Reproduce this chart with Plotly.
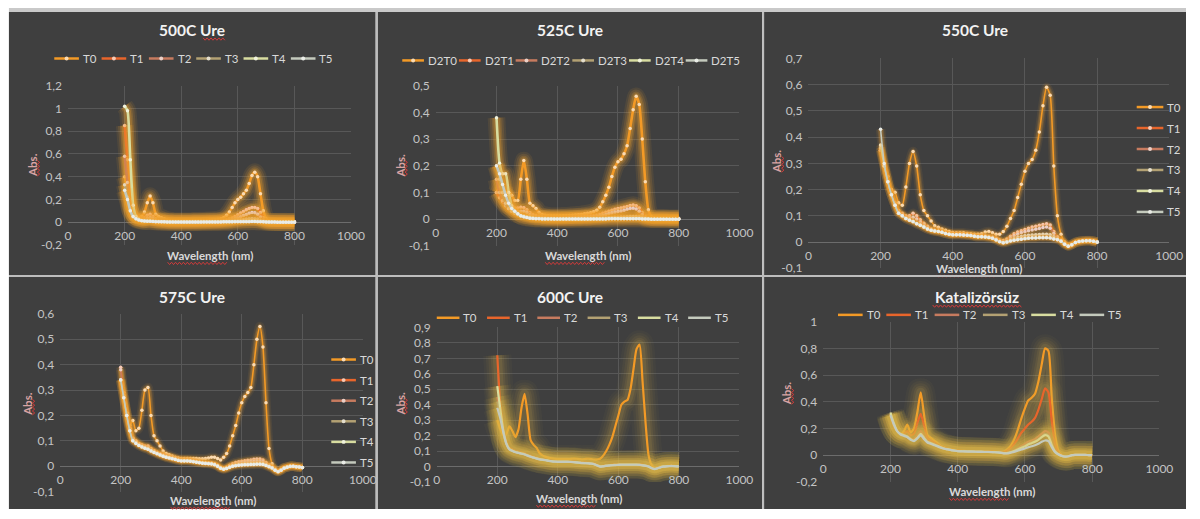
import numpy as np
import plotly.graph_objects as go

W, H = 1200, 519

# ---------------------------------------------------------------- data
wavelength = list(range(200, 801, 10))  # nm

names_T = ["T0", "T1", "T2", "T3", "T4", "T5"]
names_D2 = ["D2T0", "D2T1", "D2T2", "D2T3", "D2T4", "D2T5"]

# 500C Ure
u500_T0 = [0.40, 0.30, 0.15, 0.08, 0.05, 0.04, 0.05, 0.09, 0.17, 0.23,
           0.17, 0.07, 0.05, 0.04, 0.03, 0.02, 0.015, 0.012, 0.01, 0.01,
           0.01, 0.01, 0.01, 0.01, 0.012, 0.012, 0.013, 0.014, 0.015, 0.016,
           0.018, 0.02, 0.022, 0.025, 0.03, 0.04, 0.06, 0.09, 0.13, 0.17,
           0.20, 0.22, 0.25, 0.28, 0.34, 0.41, 0.44, 0.40, 0.25, 0.10,
           0.03, 0.012, 0.008, 0.006, 0.005, 0.005, 0.005, 0.005, 0.004, 0.004,
           0.003]
u500_T1 = [0.85, 0.55, 0.20, 0.08, 0.05, 0.04, 0.035, 0.04, 0.06, 0.07,
           0.05, 0.03, 0.02, 0.015, 0.012, 0.01, 0.008, 0.007, 0.006, 0.006,
           0.006, 0.006, 0.006, 0.006, 0.007, 0.007, 0.008, 0.008, 0.009, 0.01,
           0.01, 0.011, 0.012, 0.013, 0.015, 0.018, 0.022, 0.028, 0.037, 0.05,
           0.065, 0.08, 0.095, 0.11, 0.12, 0.13, 0.13, 0.12, 0.085, 0.04,
           0.012, 0.006, 0.004, 0.003, 0.003, 0.003, 0.003, 0.002, 0.002, 0.002,
           0.002]
u500_T2 = [0.58, 0.35, 0.12, 0.05, 0.03, 0.025, 0.022, 0.025, 0.035, 0.04,
           0.03, 0.02, 0.012, 0.01, 0.008, 0.006, 0.005, 0.005, 0.004, 0.004,
           0.004, 0.004, 0.004, 0.004, 0.005, 0.005, 0.005, 0.006, 0.006, 0.007,
           0.007, 0.008, 0.008, 0.009, 0.01, 0.012, 0.015, 0.019, 0.024, 0.03,
           0.038, 0.048, 0.058, 0.068, 0.078, 0.085, 0.083, 0.07, 0.045, 0.02,
           0.008, 0.004, 0.003, 0.002, 0.002, 0.002, 0.002, 0.002, 0.001, 0.001,
           0.001]
u500_T3 = [0.33, 0.22, 0.10, 0.045, 0.025, 0.015, 0.012, 0.012, 0.014, 0.016,
           0.012, 0.008, 0.006, 0.005, 0.004, 0.003, 0.003, 0.002, 0.002, 0.002,
           0.002, 0.002, 0.002, 0.002, 0.002, 0.003, 0.003, 0.003, 0.003, 0.003,
           0.004, 0.004, 0.004, 0.005, 0.005, 0.006, 0.007, 0.008, 0.01, 0.013,
           0.016, 0.019, 0.022, 0.025, 0.028, 0.03, 0.029, 0.025, 0.016, 0.008,
           0.004, 0.002, 0.002, 0.001, 0.001, 0.001, 0.001, 0.001, 0.001, 0.001,
           0.001]
u500_T4 = [1.02, 0.98, 0.55, 0.15, 0.05, 0.025, 0.015, 0.01, 0.01, 0.01,
           0.008, 0.006, 0.005, 0.004, 0.003, 0.003, 0.002, 0.002, 0.002, 0.002,
           0.002, 0.002, 0.002, 0.002, 0.002, 0.002, 0.002, 0.002, 0.003, 0.003,
           0.003, 0.003, 0.003, 0.003, 0.004, 0.004, 0.004, 0.005, 0.005, 0.006,
           0.006, 0.007, 0.008, 0.008, 0.009, 0.009, 0.009, 0.008, 0.006, 0.004,
           0.003, 0.002, 0.001, 0.001, 0.001, 0.001, 0.001, 0.001, 0.001, 0.001,
           0.001]
u500_T5 = [0.28, 0.20, 0.10, 0.05, 0.03, 0.02, 0.013, 0.01, 0.009, 0.008,
           0.006, 0.005, 0.004, 0.003, 0.003, 0.002, 0.002, 0.002, 0.001, 0.001,
           0.001, 0.001, 0.001, 0.001, 0.001, 0.001, 0.001, 0.001, 0.002, 0.002,
           0.002, 0.002, 0.002, 0.002, 0.002, 0.003, 0.003, 0.003, 0.003, 0.004,
           0.004, 0.004, 0.005, 0.005, 0.005, 0.006, 0.006, 0.005, 0.004, 0.003,
           0.002, 0.001, 0.001, 0.001, 0.0, 0.0, 0.0, 0.0, 0.0, 0.0,
           0.0]

# 525C Ure
u525_D2T0 = [0.10, 0.12, 0.11, 0.10, 0.10, 0.09, 0.07, 0.07, 0.15, 0.22,
             0.15, 0.06, 0.05, 0.04, 0.025, 0.018, 0.015, 0.013, 0.012, 0.012,
             0.012, 0.012, 0.013, 0.013, 0.014, 0.015, 0.016, 0.017, 0.018, 0.02,
             0.022, 0.024, 0.028, 0.034, 0.045, 0.065, 0.09, 0.12, 0.16, 0.195,
             0.215, 0.225, 0.245, 0.275, 0.34, 0.41, 0.46, 0.43, 0.30, 0.14,
             0.035, 0.01, 0.006, 0.005, 0.005, 0.005, 0.004, 0.004, 0.004, 0.004,
             0.004]
u525_D2T1 = [0.10, 0.08, 0.065, 0.055, 0.05, 0.045, 0.042, 0.042, 0.045, 0.043,
             0.035, 0.025, 0.018, 0.014, 0.011, 0.009, 0.008, 0.007, 0.007, 0.007,
             0.007, 0.007, 0.007, 0.008, 0.008, 0.008, 0.009, 0.009, 0.01, 0.01,
             0.011, 0.012, 0.013, 0.015, 0.018, 0.022, 0.026, 0.03, 0.034, 0.037,
             0.04, 0.042, 0.045, 0.048, 0.051, 0.053, 0.05, 0.042, 0.025, 0.01,
             0.005, 0.003, 0.003, 0.003, 0.003, 0.003, 0.003, 0.002, 0.002, 0.002,
             0.002]
u525_D2T2 = [0.15, 0.10, 0.07, 0.05, 0.04, 0.035, 0.03, 0.028, 0.03, 0.03,
             0.025, 0.018, 0.013, 0.01, 0.008, 0.007, 0.006, 0.005, 0.005, 0.005,
             0.005, 0.005, 0.005, 0.005, 0.006, 0.006, 0.006, 0.007, 0.007, 0.008,
             0.008, 0.009, 0.01, 0.011, 0.013, 0.015, 0.018, 0.021, 0.024, 0.027,
             0.029, 0.031, 0.034, 0.037, 0.04, 0.041, 0.038, 0.03, 0.017, 0.007,
             0.003, 0.002, 0.002, 0.002, 0.002, 0.002, 0.002, 0.002, 0.002, 0.002,
             0.002]
u525_D2T3 = [0.20, 0.15, 0.10, 0.06, 0.04, 0.03, 0.022, 0.017, 0.015, 0.013,
             0.01, 0.008, 0.006, 0.005, 0.004, 0.003, 0.003, 0.003, 0.002, 0.002,
             0.002, 0.002, 0.002, 0.002, 0.002, 0.002, 0.003, 0.003, 0.003, 0.003,
             0.003, 0.003, 0.004, 0.004, 0.004, 0.005, 0.005, 0.006, 0.006, 0.007,
             0.007, 0.008, 0.008, 0.009, 0.01, 0.01, 0.01, 0.009, 0.006, 0.003,
             0.002, 0.001, 0.001, 0.001, 0.001, 0.001, 0.001, 0.001, 0.001, 0.001,
             0.001]
u525_D2T4 = [0.38, 0.21, 0.17, 0.17, 0.10, 0.05, 0.03, 0.02, 0.012, 0.009,
             0.007, 0.005, 0.004, 0.003, 0.003, 0.002, 0.002, 0.002, 0.002, 0.001,
             0.001, 0.001, 0.001, 0.001, 0.001, 0.001, 0.001, 0.001, 0.001, 0.001,
             0.001, 0.001, 0.002, 0.002, 0.002, 0.002, 0.002, 0.002, 0.003, 0.003,
             0.003, 0.003, 0.003, 0.003, 0.003, 0.003, 0.003, 0.003, 0.002, 0.002,
             0.001, 0.001, 0.001, 0.001, 0.001, 0.001, 0.001, 0.0, 0.0, 0.0,
             0.0]
u525_D2T5 = [0.20, 0.17, 0.13, 0.09, 0.06, 0.04, 0.03, 0.02, 0.013, 0.009,
             0.006, 0.004, 0.003, 0.002, 0.002, 0.001, 0.001, 0.001, 0.001, 0.001,
             0.001, 0.001, 0.001, 0.001, 0.001, 0.001, 0.001, 0.001, 0.001, 0.001,
             0.001, 0.001, 0.001, 0.001, 0.001, 0.001, 0.001, 0.002, 0.002, 0.002,
             0.002, 0.002, 0.002, 0.002, 0.002, 0.002, 0.002, 0.002, 0.001, 0.001,
             0.001, 0.0, 0.0, 0.0, 0.0, 0.0, 0.0, 0.0, 0.0, 0.0,
             0.0]

# 550C Ure
u550_T0 = [0.36, 0.30, 0.25, 0.20, 0.19, 0.15, 0.14, 0.21, 0.30, 0.345,
           0.29, 0.18, 0.12, 0.10, 0.08, 0.062, 0.056, 0.05, 0.045, 0.04,
           0.036, 0.035, 0.035, 0.035, 0.033, 0.032, 0.03, 0.03, 0.032, 0.038,
           0.04, 0.035, 0.03, 0.03, 0.04, 0.06, 0.09, 0.12, 0.17, 0.22,
           0.27, 0.30, 0.315, 0.35, 0.42, 0.52, 0.59, 0.56, 0.29, 0.10,
           0.03, 0.0, -0.012, -0.008, 0.0, 0.003, 0.005, 0.006, 0.006, 0.004,
           0.0]
u550_T1 = [0.35, 0.29, 0.23, 0.18, 0.15, 0.12, 0.11, 0.10, 0.10, 0.11,
           0.10, 0.085, 0.072, 0.06, 0.05, 0.045, 0.042, 0.039, 0.035, 0.032,
           0.03, 0.03, 0.03, 0.029, 0.028, 0.027, 0.025, 0.023, 0.023, 0.023,
           0.021, 0.018, 0.014, 0.008, 0.006, 0.012, 0.022, 0.032, 0.038, 0.043,
           0.048, 0.053, 0.057, 0.06, 0.064, 0.067, 0.07, 0.065, 0.04, 0.02,
           0.008, -0.005, -0.014, -0.009, -0.002, 0.002, 0.004, 0.005, 0.005, 0.003,
           0.0]
u550_T2 = [0.35, 0.29, 0.23, 0.18, 0.145, 0.115, 0.105, 0.095, 0.092, 0.095,
           0.088, 0.076, 0.066, 0.056, 0.048, 0.044, 0.041, 0.038, 0.034, 0.031,
           0.029, 0.029, 0.029, 0.028, 0.027, 0.026, 0.024, 0.022, 0.022, 0.022,
           0.02, 0.017, 0.012, 0.006, 0.003, 0.008, 0.016, 0.024, 0.03, 0.035,
           0.039, 0.043, 0.046, 0.049, 0.052, 0.055, 0.057, 0.053, 0.033, 0.016,
           0.006, -0.006, -0.014, -0.009, -0.002, 0.002, 0.004, 0.005, 0.005, 0.003,
           0.0]
u550_T3 = [0.36, 0.29, 0.23, 0.18, 0.14, 0.11, 0.10, 0.09, 0.085, 0.08,
           0.072, 0.066, 0.058, 0.05, 0.045, 0.042, 0.04, 0.037, 0.033, 0.03,
           0.028, 0.028, 0.028, 0.027, 0.026, 0.025, 0.022, 0.02, 0.02, 0.02,
           0.018, 0.015, 0.01, 0.003, -0.002, 0.002, 0.008, 0.013, 0.017, 0.021,
           0.024, 0.026, 0.027, 0.028, 0.029, 0.03, 0.03, 0.028, 0.02, 0.012,
           0.005, -0.007, -0.015, -0.01, -0.002, 0.002, 0.004, 0.005, 0.005, 0.003,
           0.0]
u550_T4 = [0.37, 0.29, 0.23, 0.18, 0.14, 0.11, 0.10, 0.09, 0.084, 0.078,
           0.07, 0.064, 0.057, 0.05, 0.045, 0.042, 0.04, 0.037, 0.033, 0.03,
           0.028, 0.028, 0.028, 0.027, 0.026, 0.025, 0.022, 0.02, 0.02, 0.019,
           0.017, 0.014, 0.009, 0.002, -0.003, 0.0, 0.005, 0.008, 0.01, 0.012,
           0.014, 0.015, 0.016, 0.016, 0.017, 0.017, 0.017, 0.016, 0.013, 0.01,
           0.004, -0.008, -0.015, -0.01, -0.002, 0.002, 0.004, 0.005, 0.005, 0.003,
           0.0]
u550_T5 = [0.43, 0.30, 0.23, 0.18, 0.14, 0.11, 0.10, 0.09, 0.083, 0.077,
           0.07, 0.064, 0.057, 0.05, 0.045, 0.042, 0.04, 0.037, 0.033, 0.03,
           0.028, 0.028, 0.028, 0.027, 0.026, 0.025, 0.022, 0.02, 0.02, 0.019,
           0.017, 0.014, 0.008, 0.001, -0.003, 0.0, 0.004, 0.007, 0.009, 0.011,
           0.013, 0.014, 0.015, 0.015, 0.016, 0.016, 0.016, 0.015, 0.012, 0.009,
           0.003, -0.008, -0.016, -0.01, -0.002, 0.002, 0.004, 0.005, 0.005, 0.003,
           0.0]

# 575C Ure
u575_T0 = [0.34, 0.27, 0.21, 0.16, 0.18, 0.14, 0.15, 0.22, 0.30, 0.31,
           0.20, 0.12, 0.10, 0.08, 0.06, 0.05, 0.045, 0.04, 0.035, 0.032,
           0.03, 0.03, 0.03, 0.03, 0.03, 0.03, 0.029, 0.029, 0.03, 0.032,
           0.035, 0.035, 0.03, 0.025, 0.035, 0.05, 0.08, 0.12, 0.16, 0.21,
           0.25, 0.275, 0.29, 0.31, 0.40, 0.50, 0.55, 0.47, 0.25, 0.07,
           0.01, -0.01, -0.018, -0.012, -0.005, -0.003, 0.0, 0.0, -0.002, -0.003,
           -0.005]
u575_T1 = [0.39, 0.29, 0.21, 0.15, 0.11, 0.10, 0.09, 0.085, 0.08, 0.08,
           0.07, 0.062, 0.055, 0.05, 0.045, 0.04, 0.037, 0.034, 0.03, 0.027,
           0.025, 0.025, 0.025, 0.024, 0.022, 0.02, 0.018, 0.016, 0.015, 0.014,
           0.013, 0.01, 0.004, -0.004, -0.008, -0.004, 0.004, 0.01, 0.015, 0.018,
           0.02, 0.022, 0.024, 0.025, 0.027, 0.028, 0.028, 0.025, 0.015, 0.005,
           -0.003, -0.012, -0.02, -0.014, -0.006, -0.003, 0.0, 0.0, -0.002, -0.003,
           -0.005]
u575_T2 = [0.38, 0.28, 0.21, 0.15, 0.11, 0.098, 0.088, 0.082, 0.077, 0.075,
           0.066, 0.06, 0.053, 0.048, 0.043, 0.039, 0.036, 0.033, 0.029, 0.026,
           0.024, 0.024, 0.024, 0.023, 0.021, 0.019, 0.017, 0.015, 0.014, 0.013,
           0.012, 0.009, 0.003, -0.005, -0.009, -0.006, 0.0, 0.005, 0.009, 0.012,
           0.014, 0.016, 0.017, 0.018, 0.019, 0.02, 0.02, 0.018, 0.01, 0.002,
           -0.004, -0.013, -0.02, -0.014, -0.006, -0.003, 0.0, 0.0, -0.002, -0.003,
           -0.005]
u575_T3 = [0.34, 0.27, 0.20, 0.14, 0.105, 0.095, 0.085, 0.079, 0.074, 0.07,
           0.063, 0.057, 0.051, 0.046, 0.041, 0.037, 0.034, 0.031, 0.028, 0.025,
           0.023, 0.023, 0.023, 0.022, 0.02, 0.018, 0.016, 0.014, 0.013, 0.012,
           0.011, 0.008, 0.002, -0.006, -0.01, -0.007, -0.002, 0.002, 0.005, 0.007,
           0.008, 0.009, 0.01, 0.011, 0.011, 0.012, 0.012, 0.011, 0.006, 0.0,
           -0.005, -0.014, -0.021, -0.015, -0.007, -0.003, 0.0, 0.0, -0.002, -0.003,
           -0.005]
u575_T4 = [0.34, 0.27, 0.20, 0.14, 0.10, 0.092, 0.083, 0.077, 0.072, 0.068,
           0.061, 0.055, 0.05, 0.045, 0.04, 0.036, 0.033, 0.03, 0.027, 0.024,
           0.022, 0.022, 0.022, 0.021, 0.019, 0.017, 0.015, 0.013, 0.012, 0.011,
           0.01, 0.007, 0.001, -0.007, -0.011, -0.008, -0.003, 0.001, 0.003, 0.005,
           0.006, 0.007, 0.007, 0.008, 0.008, 0.009, 0.009, 0.008, 0.004, -0.001,
           -0.006, -0.015, -0.021, -0.015, -0.007, -0.003, 0.0, 0.0, -0.002, -0.003,
           -0.005]
u575_T5 = [0.34, 0.27, 0.20, 0.14, 0.10, 0.09, 0.082, 0.076, 0.071, 0.067,
           0.06, 0.054, 0.049, 0.044, 0.039, 0.035, 0.032, 0.029, 0.026, 0.023,
           0.021, 0.021, 0.021, 0.02, 0.018, 0.016, 0.014, 0.012, 0.011, 0.01,
           0.009, 0.006, 0.0, -0.008, -0.012, -0.009, -0.004, 0.0, 0.002, 0.004,
           0.005, 0.006, 0.006, 0.007, 0.007, 0.008, 0.008, 0.007, 0.003, -0.002,
           -0.007, -0.016, -0.022, -0.016, -0.008, -0.004, -0.001, 0.0, -0.002, -0.003,
           -0.005]

# 600C Ure
u600_T0 = [0.30, 0.24, 0.20, 0.21, 0.26, 0.23, 0.19, 0.24, 0.38, 0.47,
           0.34, 0.17, 0.14, 0.12, 0.085, 0.07, 0.062, 0.056, 0.052, 0.05,
           0.048, 0.047, 0.047, 0.047, 0.048, 0.05, 0.05, 0.048, 0.046, 0.048,
           0.05, 0.048, 0.045, 0.045, 0.05, 0.07, 0.10, 0.14, 0.19, 0.26,
           0.33, 0.40, 0.42, 0.43, 0.50, 0.63, 0.76, 0.79, 0.55, 0.28,
           0.07, 0.01, -0.01, -0.005, 0.0, 0.002, 0.003, 0.004, 0.004, 0.003,
           0.002]
u600_T1 = [0.72, 0.40, 0.25, 0.16, 0.12, 0.11, 0.10, 0.095, 0.09, 0.085,
           0.075, 0.068, 0.062, 0.056, 0.05, 0.047, 0.044, 0.04, 0.037, 0.035,
           0.034, 0.034, 0.034, 0.034, 0.033, 0.032, 0.03, 0.028, 0.026, 0.025,
           0.024, 0.022, 0.018, 0.01, 0.002, 0.004, 0.007, 0.009, 0.011, 0.012,
           0.013, 0.014, 0.014, 0.015, 0.015, 0.015, 0.015, 0.014, 0.011, 0.008,
           0.002, -0.008, -0.015, -0.01, -0.004, 0.0, 0.002, 0.003, 0.003, 0.002,
           0.001]
u600_T2 = [0.45, 0.35, 0.24, 0.155, 0.118, 0.107, 0.098, 0.093, 0.088, 0.083,
           0.074, 0.067, 0.061, 0.055, 0.049, 0.046, 0.043, 0.039, 0.036, 0.034,
           0.033, 0.033, 0.033, 0.033, 0.032, 0.031, 0.029, 0.027, 0.025, 0.024,
           0.023, 0.021, 0.017, 0.009, 0.001, 0.003, 0.006, 0.008, 0.01, 0.011,
           0.012, 0.013, 0.013, 0.014, 0.014, 0.014, 0.014, 0.013, 0.01, 0.007,
           0.001, -0.009, -0.015, -0.01, -0.004, 0.0, 0.002, 0.003, 0.003, 0.002,
           0.001]
u600_T3 = [0.42, 0.34, 0.23, 0.15, 0.115, 0.104, 0.095, 0.09, 0.085, 0.08,
           0.072, 0.065, 0.059, 0.053, 0.048, 0.045, 0.042, 0.038, 0.035, 0.033,
           0.032, 0.032, 0.032, 0.032, 0.031, 0.03, 0.028, 0.026, 0.024, 0.023,
           0.022, 0.02, 0.016, 0.008, 0.0, 0.002, 0.005, 0.007, 0.009, 0.01,
           0.011, 0.012, 0.012, 0.013, 0.013, 0.013, 0.013, 0.012, 0.009, 0.006,
           0.0, -0.01, -0.016, -0.011, -0.004, 0.0, 0.002, 0.003, 0.003, 0.002,
           0.001]
u600_T4 = [0.52, 0.37, 0.23, 0.15, 0.113, 0.102, 0.094, 0.089, 0.084, 0.079,
           0.071, 0.064, 0.058, 0.052, 0.047, 0.044, 0.041, 0.037, 0.034, 0.032,
           0.031, 0.031, 0.031, 0.031, 0.03, 0.029, 0.027, 0.025, 0.023, 0.022,
           0.021, 0.019, 0.015, 0.007, 0.0, 0.002, 0.005, 0.007, 0.009, 0.01,
           0.011, 0.012, 0.012, 0.012, 0.012, 0.012, 0.012, 0.011, 0.008, 0.005,
           0.0, -0.01, -0.016, -0.011, -0.004, 0.0, 0.002, 0.003, 0.003, 0.002,
           0.001]
u600_T5 = [0.38, 0.31, 0.22, 0.145, 0.11, 0.10, 0.092, 0.087, 0.082, 0.077,
           0.07, 0.063, 0.057, 0.051, 0.046, 0.043, 0.04, 0.036, 0.033, 0.031,
           0.03, 0.03, 0.03, 0.03, 0.029, 0.028, 0.026, 0.024, 0.022, 0.021,
           0.02, 0.018, 0.014, 0.006, -0.001, 0.001, 0.004, 0.006, 0.008, 0.009,
           0.01, 0.011, 0.011, 0.011, 0.011, 0.011, 0.011, 0.01, 0.007, 0.004,
           -0.001, -0.011, -0.017, -0.012, -0.005, -0.001, 0.001, 0.002, 0.002, 0.001,
           0.0]

# Katalizörsüz
kat_T0 = [0.30, 0.22, 0.18, 0.16, 0.18, 0.23, 0.17, 0.20, 0.32, 0.47,
          0.30, 0.15, 0.13, 0.11, 0.09, 0.07, 0.06, 0.05, 0.045, 0.04,
          0.035, 0.033, 0.032, 0.031, 0.03, 0.03, 0.029, 0.028, 0.028, 0.027,
          0.027, 0.026, 0.025, 0.025, 0.03, 0.05, 0.08, 0.13, 0.20, 0.28,
          0.35, 0.41, 0.43, 0.46, 0.55, 0.68, 0.80, 0.78, 0.42, 0.15,
          0.03, 0.0, -0.01, -0.01, 0.0, 0.002, 0.003, 0.003, 0.002, 0.001,
          0.0]
kat_T1 = [0.30, 0.22, 0.18, 0.16, 0.16, 0.18, 0.15, 0.16, 0.24, 0.31,
          0.22, 0.13, 0.11, 0.095, 0.08, 0.065, 0.056, 0.048, 0.043, 0.038,
          0.034, 0.032, 0.031, 0.03, 0.029, 0.029, 0.028, 0.027, 0.027, 0.026,
          0.026, 0.025, 0.024, 0.023, 0.026, 0.04, 0.06, 0.09, 0.13, 0.17,
          0.20, 0.23, 0.25, 0.28, 0.34, 0.42, 0.50, 0.47, 0.25, 0.08,
          0.02, -0.002, -0.01, -0.01, 0.0, 0.002, 0.003, 0.003, 0.002, 0.001,
          0.0]
kat_T2 = [0.31, 0.23, 0.18, 0.16, 0.15, 0.145, 0.125, 0.12, 0.15, 0.18,
          0.14, 0.11, 0.095, 0.085, 0.072, 0.062, 0.053, 0.046, 0.041, 0.036,
          0.032, 0.031, 0.03, 0.029, 0.028, 0.028, 0.027, 0.026, 0.026, 0.025,
          0.025, 0.024, 0.022, 0.02, 0.018, 0.022, 0.03, 0.04, 0.055, 0.07,
          0.085, 0.10, 0.11, 0.12, 0.14, 0.16, 0.18, 0.17, 0.09, 0.035,
          0.01, -0.004, -0.01, -0.008, 0.0, 0.002, 0.003, 0.003, 0.002, 0.001,
          0.0]
kat_T3 = [0.31, 0.23, 0.18, 0.16, 0.15, 0.14, 0.12, 0.11, 0.13, 0.16,
          0.13, 0.10, 0.09, 0.08, 0.07, 0.06, 0.05, 0.045, 0.04, 0.035,
          0.031, 0.03, 0.029, 0.028, 0.028, 0.027, 0.026, 0.026, 0.025, 0.025,
          0.024, 0.023, 0.021, 0.018, 0.015, 0.018, 0.025, 0.035, 0.048, 0.06,
          0.07, 0.085, 0.095, 0.105, 0.12, 0.14, 0.16, 0.15, 0.08, 0.03,
          0.008, -0.005, -0.01, -0.008, 0.0, 0.002, 0.003, 0.003, 0.002, 0.001,
          0.0]
kat_T4 = [0.32, 0.24, 0.18, 0.16, 0.15, 0.14, 0.12, 0.11, 0.13, 0.16,
          0.13, 0.10, 0.09, 0.08, 0.07, 0.06, 0.05, 0.045, 0.04, 0.035,
          0.031, 0.03, 0.029, 0.028, 0.028, 0.027, 0.026, 0.026, 0.025, 0.025,
          0.024, 0.023, 0.021, 0.018, 0.015, 0.017, 0.024, 0.033, 0.045, 0.056,
          0.066, 0.08, 0.09, 0.10, 0.115, 0.135, 0.15, 0.14, 0.075, 0.028,
          0.007, -0.005, -0.01, -0.008, 0.0, 0.002, 0.003, 0.003, 0.002, 0.001,
          0.0]
kat_T5 = [0.30, 0.23, 0.18, 0.155, 0.145, 0.135, 0.115, 0.105, 0.125, 0.15,
          0.12, 0.095, 0.085, 0.075, 0.065, 0.056, 0.048, 0.043, 0.038, 0.034,
          0.03, 0.029, 0.028, 0.027, 0.027, 0.026, 0.025, 0.025, 0.024, 0.024,
          0.023, 0.022, 0.02, 0.017, 0.013, 0.014, 0.02, 0.027, 0.035, 0.043,
          0.05, 0.06, 0.067, 0.074, 0.085, 0.10, 0.11, 0.105, 0.06, 0.022,
          0.005, -0.006, -0.011, -0.008, 0.0, 0.002, 0.003, 0.003, 0.002, 0.001,
          0.0]

x_ticks = [0, 200, 400, 600, 800, 1000]

# ---------------------------------------------------------------- style
series_colors = ["#F39A26", "#E8652B", "#C77B5F", "#B3A173", "#D8DDA0", "#C4CABD"]
PANEL_BG = "#3f3f3f"
GRID = "#585858"
AXIS = "#6c6c6c"
TICK = "#c4c4c4"
TEXT = "#d9d9d9"
TITLE = "#f2f2f2"
FONT = "Lato, 'Open Sans', sans-serif"


def fx(px):
    return px / W


def fy(py):
    return 1 - py / H


def lighten(hex_color, amt):
    r, g, b = (int(hex_color[i:i + 2], 16) for i in (1, 3, 5))
    r, g, b = (int(c + (255 - c) * amt) for c in (r, g, b))
    return f"rgb({r},{g},{b})"


def tick_label(v):
    v = round(float(v), 2) + 0.0
    return f"{v:g}".replace(".", ",")


def squiggle(x0, x1, y, vertical=False, amp=1.2, step=2.0):
    n = int(abs(x1 - x0) / step)
    pts = []
    for j in range(n + 1):
        a = x0 + j * step * (1 if x1 > x0 else -1)
        b = y + (amp if j % 2 else -amp)
        px, py = (b, a) if vertical else (a, b)
        pts.append(f"{fx(px):.5f},{fy(py):.5f}")
    return "M" + " L".join(pts)


# glow layers: (extra width, alpha)
GLOW_STRONG = [(15, 0.09), (11, 0.13), (7, 0.18), (4, 0.25)]
GLOW_THIN = [(8, 0.08), (5, 0.14), (3, 0.22)]
GLOW_SOFT = [(26, 0.035), (21, 0.045), (16, 0.06), (11, 0.08), (7, 0.10)]

panels = [
    dict(title="500C Ure", names=names_T,
         data=[u500_T0, u500_T1, u500_T2, u500_T3, u500_T4, u500_T5],
         box=(6, 4, 378, 275), title_xy=(192, 23), xpx=(66, 353), ypx=(80, 244),
         yr=(-0.2, 1.2), dy=0.2, leg=("h", 52, 52, 48, 25),
         xt=(210, 255), yt=(30, 162), markers=True, glow=GLOW_STRONG,
         glow_rgb=(245, 165, 45), core=2.6, title_sq=(203, 226)),
    dict(title="525C Ure", names=names_D2,
         data=[u525_D2T0, u525_D2T1, u525_D2T2, u525_D2T3, u525_D2T4, u525_D2T5],
         box=(380, 4, 770, 275), title_xy=(575, 23), xpx=(439, 747), ypx=(80, 245),
         yr=(-0.1, 0.5), dy=0.1, leg=("h", 405, 54, 57.5, 22),
         xt=(593, 255), yt=(403, 162), markers=True, glow=GLOW_STRONG,
         glow_rgb=(245, 165, 45), core=2.6, title_sq=None),
    dict(title="550C Ure", names=names_T,
         data=[u550_T0, u550_T1, u550_T2, u550_T3, u550_T4, u550_T5],
         box=(772, 4, 1200, 275), title_xy=(986, 23), xpx=(817, 1183), ypx=(52, 268),
         yr=(-0.1, 0.7), dy=0.1, leg=("v", 1150, 102, 21.6, 27),
         xt=(990, 268), yt=(785, 158), markers=True, glow=GLOW_THIN,
         glow_rgb=(245, 165, 50), core=1.6, title_sq=None),
    dict(title="575C Ure", names=names_T,
         data=[u575_T0, u575_T1, u575_T2, u575_T3, u575_T4, u575_T5],
         box=(6, 277, 378, 516), title_xy=(192, 298), xpx=(58, 365), ypx=(315, 498),
         yr=(-0.1, 0.6), dy=0.1, leg=("v", 333, 362, 21.2, 25),
         xt=(213, 507), yt=(25, 408), markers=True, glow=GLOW_THIN,
         glow_rgb=(245, 165, 50), core=1.6, title_sq=None),
    dict(title="600C Ure", names=names_T,
         data=[u600_T0, u600_T1, u600_T2, u600_T3, u600_T4, u600_T5],
         box=(380, 277, 770, 516), title_xy=(575, 298), xpx=(440, 747), ypx=(329, 488),
         yr=(-0.1, 0.9), dy=0.1, leg=("h", 440, 319, 51, 23),
         xt=(584, 505), yt=(403, 407), markers=False, glow=GLOW_SOFT,
         glow_rgb=(230, 185, 75), core=2.2, title_sq=None),
    dict(title="Katalizörsüz", names=names_T,
         data=[kat_T0, kat_T1, kat_T2, kat_T3, kat_T4, kat_T5],
         box=(772, 277, 1200, 516), title_xy=(988, 298), xpx=(832, 1173), ypx=(323, 488),
         yr=(-0.2, 1.0), dy=0.2, leg=("h", 847, 316, 49, 25),
         xt=(1003, 498), yt=(795, 397), markers=False, glow=GLOW_SOFT,
         glow_rgb=(230, 185, 75), core=2.2, title_sq=(943, 1033)),
]

fig = go.Figure()
shapes, annotations = [], []

# page frame: light strip along the top, dark chart areas
shapes.append(dict(type="rect", xref="paper", yref="paper", layer="below",
                   x0=fx(6), x1=fx(1200), y0=fy(0), y1=fy(4),
                   fillcolor="#c9c9c9", line=dict(width=0)))

for k, p in enumerate(panels, start=1):
    sx = "" if k == 1 else str(k)
    xa, ya = f"x{sx}", f"y{sx}"
    x0, y0, x1, y1 = p["box"]
    shapes.append(dict(type="rect", xref="paper", yref="paper", layer="below",
                       x0=fx(x0), x1=fx(x1), y0=fy(y1), y1=fy(y0),
                       fillcolor=PANEL_BG, line=dict(width=0)))

    ymin, ymax = p["yr"]
    top_px, bot_px = p["ypx"]
    zero_px = top_px + ymax / (ymax - ymin) * (bot_px - top_px)
    yvals = np.round(np.arange(ymin, ymax + p["dy"] / 2, p["dy"]), 2)

    fig.layout[f"xaxis{sx}"] = dict(
        domain=[fx(p["xpx"][0]), fx(p["xpx"][1])], range=[0, 1000],
        anchor="free", position=fy(zero_px),
        tickvals=x_ticks, ticktext=[str(t) for t in x_ticks],
        showgrid=True, gridcolor=GRID, gridwidth=1, zeroline=False,
        showline=False, ticks="", ticklabelstandoff=5,
        tickfont=dict(family=FONT, size=12, color=TICK), fixedrange=True)
    fig.layout[f"yaxis{sx}"] = dict(
        domain=[fy(bot_px), fy(top_px)], range=[ymin, ymax], anchor=xa,
        tickvals=list(yvals), ticktext=[tick_label(v) for v in yvals],
        showgrid=True, gridcolor=GRID, gridwidth=1,
        zeroline=True, zerolinecolor=AXIS, zerolinewidth=1,
        showline=False, ticks="", ticklabelstandoff=5,
        tickfont=dict(family=FONT, size=12, color=TICK), fixedrange=True)

    gr, gg, gb = p["glow_rgb"]
    for name, vals, col in zip(p["names"], p["data"], series_colors):
        for extra, alpha in p["glow"]:
            fig.add_trace(go.Scatter(
                x=wavelength, y=vals, xaxis=xa, yaxis=ya, mode="lines",
                line=dict(color=f"rgba({gr},{gg},{gb},{alpha})",
                          width=p["core"] + extra, shape="spline", smoothing=0.6),
                hoverinfo="skip", showlegend=False))
        fig.add_trace(go.Scatter(
            x=wavelength, y=vals, xaxis=xa, yaxis=ya, name=name,
            mode="lines+markers" if p["markers"] else "lines",
            line=dict(color=col, width=p["core"], shape="spline", smoothing=0.6),
            marker=dict(size=3.5, color=lighten(col, 0.65), line=dict(width=0)),
            showlegend=False))

    # legend keys
    orient, lx0, ly0, step, llen = p["leg"]
    for i, (name, col) in enumerate(zip(p["names"], series_colors)):
        lx = lx0 + (i * step if orient == "h" else 0)
        ly = ly0 + (i * step if orient == "v" else 0)
        shapes.append(dict(type="line", xref="paper", yref="paper",
                           x0=fx(lx), x1=fx(lx + llen), y0=fy(ly), y1=fy(ly),
                           line=dict(color=col, width=2.5)))
        if p["markers"]:
            cx = lx + llen / 2
            shapes.append(dict(type="circle", xref="paper", yref="paper",
                               x0=fx(cx - 2), x1=fx(cx + 2), y0=fy(ly + 2), y1=fy(ly - 2),
                               fillcolor=lighten(col, 0.65), line=dict(width=0)))
        annotations.append(dict(text=name, xref="paper", yref="paper",
                                x=fx(lx + llen + 2), y=fy(ly), xanchor="left",
                                yanchor="middle", showarrow=False,
                                font=dict(family=FONT, size=11.5, color=TEXT)))

    # titles
    annotations.append(dict(text=f"<b>{p['title']}</b>", xref="paper", yref="paper",
                            x=fx(p["title_xy"][0]), y=fy(p["title_xy"][1]),
                            xanchor="center", yanchor="middle", showarrow=False,
                            font=dict(family=FONT, size=15.5, color=TITLE)))
    annotations.append(dict(text="<b>Wavelength (nm)</b>", xref="paper", yref="paper",
                            x=fx(p["xt"][0]), y=fy(p["xt"][1]),
                            xanchor="center", yanchor="middle", showarrow=False,
                            font=dict(family=FONT, size=11.5, color=TEXT)))
    annotations.append(dict(text="<b>Abs.</b>", xref="paper", yref="paper",
                            x=fx(p["yt"][0]), y=fy(p["yt"][1]), textangle=-90,
                            xanchor="center", yanchor="middle", showarrow=False,
                            font=dict(family=FONT, size=11.5, color="#d9a3a3")))

    # red spell-check underlines
    red = dict(color="#d23b3b", width=1)
    wx, wy = p["xt"]
    shapes.append(dict(type="path", xref="paper", yref="paper", line=red,
                       path=squiggle(wx - 43, wx + 18, wy + 8)))
    ax_, ay_ = p["yt"]
    shapes.append(dict(type="path", xref="paper", yref="paper", line=red,
                       path=squiggle(ay_ + 11, ay_ - 6, ax_ + 6, vertical=True)))
    if p["title_sq"]:
        tx0, tx1 = p["title_sq"]
        shapes.append(dict(type="path", xref="paper", yref="paper", line=red,
                           path=squiggle(tx0, tx1, p["title_xy"][1] + 9)))

# panel separators
sep = dict(color="#bdbdbd", width=2)
for sxp in (379, 771):
    shapes.append(dict(type="line", xref="paper", yref="paper",
                       x0=fx(sxp), x1=fx(sxp), y0=fy(4), y1=fy(516), line=sep))
shapes.append(dict(type="line", xref="paper", yref="paper",
                   x0=fx(6), x1=fx(1200), y0=fy(276), y1=fy(276), line=sep))

fig.update_layout(
    width=W, height=H, margin=dict(l=0, r=0, t=0, b=0),
    paper_bgcolor="white", plot_bgcolor="rgba(0,0,0,0)",
    showlegend=False, separators=",.",
    shapes=shapes, annotations=annotations,
    font=dict(family=FONT, color=TEXT),
)

fig.write_html("out.html", config={"displayModeBar": False})
